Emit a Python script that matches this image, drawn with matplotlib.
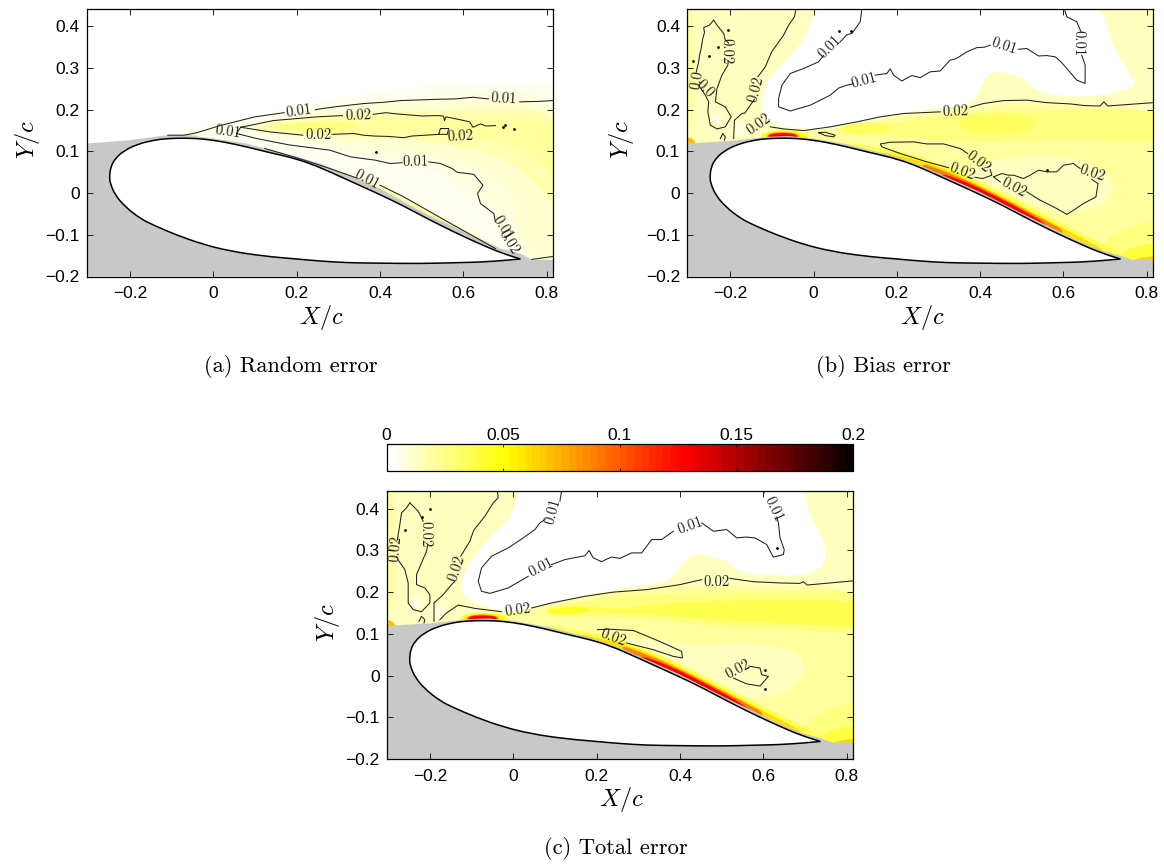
# PIV error maps over an aerofoil: random, bias and total error
import numpy as np
import matplotlib
matplotlib.use('Agg')
import matplotlib.pyplot as plt
from matplotlib.cm import ScalarMappable
from matplotlib.colors import Normalize
from matplotlib.path import Path
from matplotlib.patches import PathPatch

plt.rcParams['font.family'] = ['Liberation Sans', 'DejaVu Sans']
plt.rcParams['mathtext.fontset'] = 'cm'
plt.rcParams['axes.unicode_minus'] = True

# Aerofoil outline, data coordinates (trailing edge listed twice to keep it sharp)
airfoil = [(-.249, .039), (-.246, .063), (-.235, .083), (-.215, .101), (-.183, .117), (-.143, .127), (-.111, .131),
           (-.063, .132), (-.024, .13), (.025, .123), (.08, .111), (.136, .097), (.185, .086), (.233, .071),
           (.28, .051), (.337, .025), (.399, -.003), (.457, -.031), (.513, -.061), (.577, -.093), (.633, -.119),
           (.689, -.143), (.737, -.158), (.737, -.158), (.656, -.165), (.577, -.167),
           (.497, -.169), (.399, -.168), (.321, -.167), (.257, -.163), (.2, -.158), (.12, -.151), (.04, -.139),
           (-.024, -.123), (-.087, -.101), (-.143, -.077), (-.175, -.061), (-.211, -.033), (-.235, -.005),
           (-.247, .023)]

# Grey part with no measurement
a_mask = [(-.304, .119), (-.2, .127), (-.111, .139), (-.06, .139), (0, .131), (.08, .119), (.185, .091), (.257, .071),
          (.399, .011), (.513, -.051), (.689, -.133), (.737, -.145), (.764, -.16), (.815, -.16), (.815, -.2),
          (-.304, -.2)]
bc_mask = [(-.304, .119), (-.2, .125), (-.111, .135), (-.06, .137), (0, .131), (.08, .117), (.185, .091), (.257, .066),
           (.399, .003), (.513, -.055), (.633, -.113), (.689, -.137), (.737, -.15), (.764, -.16), (.815, -.16),
           (.815, -.2), (-.304, -.2)]

# Filled levels: error value and outline
a_fill_1 = [(-.109, .143), (.013, .167), (.188, .207), (.362, .239), (.58, .267), (.71, .259), (.771, .267),
            (.86, .259), (.86, -.18), (.77, -.18), (.6, -.1), (.3, .03), (0, .12)]
a_fill_2 = [(.048, .155), (.188, .191), (.362, .219), (.58, .239), (.86, .247), (.86, -.17), (.767, -.17),
            (.728, -.121), (.667, -.049), (.623, -.001), (.562, .047), (.475, .071), (.362, .087), (.231, .119),
            (.101, .143)]
a_fill_3 = [(.066, .157), (.188, .182), (.362, .206), (.58, .219), (.86, .231), (.86, -.17), (.771, -.165),
            (.728, -.097), (.728, -.033), (.693, .031), (.588, .079), (.449, .103), (.275, .127), (.144, .143)]
a_fill_4 = [(.074, .157), (.188, .177), (.362, .193), (.58, .199), (.86, .207), (.86, -.08), (.78, .015),
            (.71, .079), (.606, .111), (.449, .131), (.275, .135), (.144, .147)]
a_fill_5 = [(.074, .157), (.231, .174), (.405, .183), (.623, .175), (.86, .183), (.86, -.02), (.754, .111),
            (.623, .131), (.449, .139), (.275, .143)]
a_fill_6 = [(.118, .161), (.275, .174), (.362, .166), (.318, .151), (.188, .15)]
a_fill_7 = [(-.105, .137), (-.04, .142), (-.035, .134), (-.1, .131)]
a_fill_8 = [(.3, .057), (.4, .017), (.5, -.036), (.6, -.087), (.68, -.125), (.68, -.16), (.3, .02)]
a_fills = [(.004, a_fill_1), (.008, a_fill_2), (.012, a_fill_3), (.016, a_fill_4), (.02, a_fill_5),
           (.025, a_fill_6), (.035, a_fill_7), (.02, a_fill_8)]

# Pale zone, main wake and strips, one set for each of b and c
left_strip = [(-.34, .48), (-.29, .48), (-.285, .3), (-.29, .13), (-.34, .12)]
b_pale = [(.032, .48), (-.008, .411), (-.024, .363), (-.072, .315), (-.12, .259), (-.128, .195), (-.112, .171),
          (-.048, .154), (.04, .154), (.104, .171), (.168, .183), (.216, .194), (.376, .211), (.396, .239),
          (.412, .283), (.444, .295), (.52, .271), (.528, .243), (.648, .227), (.778, .251), (.76, .287),
          (.715, .351), (.688, .48)]
b_spot_1 = [(-.245, .19), (-.225, .19), (-.218, .17), (-.235, .16), (-.248, .17)]
b_spot_2 = [(-.19, .17), (-.16, .17), (-.155, .14), (-.19, .135)]
b_wake = [(-.09, .145), (.04, .152), (.104, .165), (.168, .177), (.216, .187), (.376, .2), (.456, .217), (.6, .21),
          (.86, .21), (.86, -.2), (.77, -.2), (.6, -.1), (.4, .0), (.2, .08), (.05, .12)]
b_strip = [(.05, .15), (.2, .17), (.37, .195), (.6, .2), (.86, .2), (.86, .12), (.6, .13), (.4, .12), (.2, .135),
           (.08, .14)]
b_blob_1 = [(.37, .19), (.5, .19), (.54, .17), (.5, .14), (.38, .14), (.34, .165)]
b_blob_2 = [(.065, .165), (.17, .17), (.2, .15), (.1, .14), (.06, .15)]
b_low = [(.36, .05), (.45, .085), (.56, .095), (.68, .068), (.72, .03), (.71, -.02), (.63, -.05), (.55, -.04),
         (.47, .0), (.39, .03)]
b_corner = [(.66, -.12), (.86, -.04), (.86, -.2), (.77, -.2)]
b_corner_2 = [(.72, -.14), (.86, -.11), (.86, -.2), (.77, -.2)]
b_row = [(.765, -.155), (.86, -.15), (.86, -.18), (.77, -.18)]
b_dot = [(-.34, .135), (-.29, .135), (-.28, .11), (-.34, .11)]
top_1 = [(-.125, .15), (-.02, .15), (-.01, .12), (-.125, .12)]
top_2 = [(-.112, .146), (-.035, .146), (-.035, .125), (-.112, .125)]
top_3 = [(-.108, .144), (-.04, .144), (-.04, .128), (-.108, .128)]
band_1 = [(.04, .13), (.2, .1), (.25, .09), (.3, .071), (.35, .05), (.4, .027), (.45, .002), (.5, -.024), (.55, -.05),
          (.6, -.075), (.65, -.1), (.7, -.125), (.77, -.16), (.6, -.15), (.1, .05)]
band_2 = [(.15, .102), (.2, .09), (.25, .08), (.3, .063), (.35, .042), (.4, .019), (.45, -.006), (.5, -.032),
          (.55, -.058), (.6, -.085), (.65, -.11), (.72, -.15), (.5, -.15), (.2, .03)]
band_3 = [(.25, .075), (.3, .058), (.35, .038), (.4, .015), (.45, -.01), (.5, -.036), (.55, -.062), (.62, -.1),
          (.5, -.11), (.3, .02)]
band_4 = [(.3, .049), (.35, .033), (.4, .011), (.45, -.014), (.5, -.04), (.56, -.074), (.56, -.09), (.3, .02)]
b_fills = [(.02, left_strip), (.003, b_pale), (.007, b_spot_1), (.007, b_spot_2), (.02, b_wake),
           (.025, b_strip), (.034, b_blob_1), (.034, b_blob_2), (.013, b_low), (.026, b_corner), (.04, b_corner_2),
           (.065, b_row), (.07, b_dot), (.05, top_1), (.09, top_2), (.125, top_3), (.035, band_1), (.06, band_2),
           (.09, band_3), (.125, band_4)]

c_pale = [(.02, .48), (.012, .426), (-.012, .37), (-.06, .33), (-.116, .258), (-.128, .202), (-.1, .174),
          (-.036, .158), (.012, .154), (.092, .178), (.24, .206), (.36, .222), (.384, .238), (.416, .282),
          (.448, .294), (.496, .278), (.52, .274), (.536, .246), (.688, .236), (.749, .261), (.749, .317),
          (.714, .373), (.687, .48)]
c_wake = [(-.09, .145), (.012, .15), (.092, .172), (.24, .2), (.36, .216), (.6, .215), (.86, .215), (.86, -.2),
          (.77, -.2), (.6, -.1), (.4, .0), (.2, .08), (.05, .12)]
c_strip_1 = [(.057, .157), (.199, .185), (.377, .197), (.643, .201), (.86, .205), (.86, .095), (.643, .113),
             (.465, .117), (.377, .133), (.199, .141), (.093, .141)]
c_strip_2 = [(.066, .161), (.164, .169), (.244, .157), (.377, .177), (.599, .181), (.86, .181), (.86, .11),
             (.599, .129), (.465, .133), (.359, .145), (.199, .153), (.093, .153)]
c_blob = [(.066, .155), (.164, .167), (.19, .153), (.11, .145)]
c_low = [(.253, .093), (.341, .085), (.465, .069), (.554, .081), (.678, .061), (.705, .021), (.67, -.035),
         (.572, -.059), (.51, -.051), (.377, .005), (.288, .053)]
c_spot_1 = [(-.245, .19), (-.22, .19), (-.215, .165), (-.235, .16), (-.25, .17)]
c_spot_2 = [(-.19, .17), (-.165, .17), (-.16, .14), (-.19, .135)]
c_fills = [(.02, left_strip), (.003, c_pale), (.007, c_spot_1), (.007, c_spot_2), (.02, c_wake),
           (.026, c_strip_1), (.036, c_strip_2), (.046, c_blob), (.014, c_low), (.026, b_corner), (.04, b_corner_2),
           (.065, b_row), (.07, b_dot), (.05, top_1), (.09, top_2), (.125, top_3), (.035, band_1), (.06, band_2),
           (.09, band_3), (.125, band_4)]

# Contour lines, with a gap at each label
a_lines = [
    [(-.109, .139), (-.07, .139), (-.039, .145), (.013, .161), (.056, .172), (.1, .183), (.17, .193)],
    [(.245, .2), (.262, .203), (.3, .208), (.362, .215), (.41, .218), (.449, .222), (.536, .225), (.58, .226),
     (.623, .23), (.66, .226)],
    [(.735, .219), (.78, .22), (.815, .222)],
    [(.066, .158), (.144, .174), (.249, .183), (.31, .186)],
    [(.384, .189), (.414, .193), (.44, .19), (.466, .188), (.501, .185), (.536, .186), (.552, .185), (.555, .174),
     (.558, .183), (.588, .177), (.615, .171), (.623, .158), (.641, .166), (.654, .161), (.677, .162)],
    [(.056, .143), (.066, .158)],
    [(.066, .158), (.135, .147), (.215, .139)],
    [(.285, .141), (.337, .143), (.36, .139), (.385, .137), (.42, .136), (.457, .133), (.477, .137), (.51, .139),
     (.541, .141), (.545, .155), (.565, .155), (.561, .141), (.541, .141)],
    [(.056, .143), (.104, .131), (.18, .116), (.28, .103), (.329, .087), (.389, .079), (.425, .071), (.453, .073)],
    [(.517, .075), (.545, .071), (.573, .059), (.585, .05), (.625, .045), (.647, .019), (.634, -.001), (.641, -.025),
     (.673, -.049), (.677, -.069)],
    [(.124, .107), (.2, .085), (.28, .059), (.345, .036)],
    [(.4, .019), (.457, -.009), (.577, -.077), (.677, -.133)],
    [(.764, -.159), (.815, -.152)],
]
a_labels = [(.205, .195, '0.01', 8), (.697, .225, '0.01', -3), (.349, .186, '0.02', 2), (.253, .139, '0.02', 0),
            (.035, .146, '0.01', -8), (.485, .075, '0.01', 1), (.593, .137, '0.02', 3), (.369, .031, '0.01', -28),
            (.693, -.083, '0.01', -58), (.709, -.117, '0.02', -58)]
a_dots = [(.39, .099), (.695, .158), (.7, .163), (.722, .155)]

b_lines = [
    [(-.24, .415), (-.25, .403), (-.264, .397), (-.262, .385), (-.266, .371), (-.27, .347), (-.274, .33), (-.276, .315),
     (-.282, .29)],
    [(-.276, .259), (-.26, .235), (-.252, .219), (-.254, .195), (-.248, .163), (-.232, .154), (-.212, .159),
     (-.198, .183), (-.212, .207), (-.236, .219), (-.232, .251), (-.22, .283), (-.206, .307), (-.205, .318)],
    [(-.204, .36), (-.212, .367), (-.216, .383), (-.232, .403), (-.24, .415)],
    [(-.224, .131), (-.218, .143), (-.212, .135), (-.214, .127)],
    [(-.192, .131), (-.19, .175), (-.172, .191), (-.165, .192), (-.152, .211), (-.142, .225)],
    [(-.134, .279), (-.116, .303), (-.104, .331), (-.1, .34), (-.092, .351), (-.072, .379), (-.06, .403),
     (-.046, .423), (-.042, .443)],
    [(-.104, .159), (-.072, .154), (-.024, .15), (.04, .159), (.104, .171), (.16, .183), (.216, .191), (.304, .195)],
    [(.376, .206), (.408, .215), (.456, .222), (.512, .223), (.56, .217), (.616, .214), (.652, .21), (.688, .209),
     (.697, .219), (.706, .209), (.815, .217)],
    [(.116, .443), (.112, .411), (.092, .383), (.08, .38), (.064, .363)],
    [(.024, .33), (.012, .315), (-.024, .299), (-.056, .287), (-.076, .259), (-.084, .227), (-.084, .207),
     (-.056, .197), (-.008, .211), (.04, .235), (.06, .252), (.08, .259), (.095, .262)],
    [(.148, .283), (.176, .287), (.184, .298), (.192, .283), (.212, .269), (.224, .276), (.236, .282), (.256, .277),
     (.28, .291), (.304, .293), (.328, .319), (.34, .322), (.348, .326), (.368, .339), (.392, .349), (.41, .35),
     (.424, .355)],
    [(.492, .345), (.512, .347), (.54, .329), (.56, .33), (.58, .327), (.594, .315), (.608, .299), (.632, .271),
     (.652, .263), (.652, .307), (.644, .331)],
    [(.602, .443), (.608, .423), (.632, .411), (.642, .387)],
    [(.37, .095), (.352, .107), (.312, .118), (.272, .118), (.24, .123), (.184, .122), (.16, .118), (.164, .111),
     (.208, .095), (.272, .075), (.324, .061)],
    [(.388, .038), (.406, .035), (.428, .043), (.424, .057)],
    [(.432, .039), (.448, .027)],
    [(.512, .003), (.544, -.017), (.584, -.037), (.608, -.051), (.624, -.041), (.648, -.025), (.678, -.009),
     (.683, .023), (.668, .033)],
    [(.432, .039), (.452, .047), (.468, .043), (.48, .043), (.504, .035), (.52, .043), (.54, .055), (.56, .051),
     (.584, .051), (.6, .067), (.624, .071), (.64, .059)],
    [(.012, .145), (.028, .146), (.052, .139), (.048, .135), (.028, .138), (.012, .145)],
]
b_labels = [(-.28, .272, '0.0', 80), (-.262, .25, '0.0', -45), (-.21, .34, '0.02', -90), (-.138, .25, '0.02', 75),
            (-.132, .165, '0.02', 35), (.34, .195, '0.02', 2), (.04, .35, '0.01', 45), (.12, .27, '0.01', 15),
            (.458, .352, '0.01', -18), (.635, .36, '0.01', -90), (.396, .075, '0.02', -38), (.356, .05, '0.02', -20),
            (.48, .012, '0.02', -28), (.668, .047, '0.02', -18)]
b_dots = [(-.205, .392), (-.29, .318), (-.25, .33), (-.23, .35), (.09, .39), (.56, .055), (.06, .39)]

c_lines = [
    [(-.248, .414), (-.256, .402), (-.268, .39), (-.272, .362), (-.276, .338), (-.278, .325)],
    [(-.28, .285), (-.274, .274), (-.26, .254), (-.252, .222), (-.252, .174), (-.24, .158), (-.22, .153), (-.2, .174),
     (-.2, .194), (-.212, .21), (-.232, .218), (-.232, .242), (-.22, .27), (-.208, .298), (-.205, .315)],
    [(-.216, .37), (-.228, .394), (-.248, .414)],
    [(-.226, .13), (-.22, .142), (-.212, .134), (-.214, .126)],
    [(-.19, .13), (-.19, .174), (-.168, .194), (-.148, .218), (-.14, .226)],
    [(-.126, .286), (-.104, .322), (-.095, .348), (-.068, .382), (-.048, .414), (-.036, .426), (-.038, .443)],
    [(-.176, .134), (-.16, .15), (-.132, .169), (-.092, .161), (-.028, .153)],
    [(.044, .162), (.092, .174), (.172, .19), (.24, .2), (.32, .206), (.4, .218), (.452, .23)],
    [(.52, .233), (.576, .225), (.64, .222), (.687, .221), (.696, .225), (.705, .217), (.815, .227)],
    [(.116, .443), (.112, .418)],
    [(.076, .374), (.064, .366), (.052, .35), (.024, .33), (-.012, .306), (-.052, .286), (-.076, .258), (-.084, .226),
     (-.076, .202), (-.056, .197), (-.012, .21), (.036, .238)],
    [(.092, .266), (.124, .278), (.16, .285), (.172, .287), (.182, .3), (.192, .282), (.212, .273), (.224, .279),
     (.236, .284), (.256, .281), (.284, .294), (.308, .294), (.332, .326), (.356, .326), (.384, .346)],
    [(.452, .366), (.48, .346), (.512, .35), (.536, .33), (.558, .332), (.58, .33), (.608, .314), (.624, .284),
     (.648, .29), (.65, .302), (.64, .33), (.636, .366), (.632, .38)],
    [(.602, .438), (.6, .443)],
    [(.202, .11), (.232, .111), (.288, .108), (.32, .095), (.36, .078), (.404, .058), (.406, .042), (.384, .046),
     (.336, .062), (.272, .078)],
    [(.568, .022), (.592, .018), (.596, .002), (.612, -.002), (.592, -.025), (.56, -.02), (.528, -.006)],
]
c_labels = [(-.282, .305, '0.02', 85), (-.212, .34, '0.02', -90), (-.135, .258, '0.02', 72), (.01, .157, '0.02', 8),
            (.488, .225, '0.02', 0), (.096, .394, '0.01', 75), (.068, .258, '0.01', 27), (.424, .358, '0.01', 20),
            (.624, .398, '0.01', -65), (.24, .09, '0.02', -20), (.54, .015, '0.02', 28)]
c_dots = [(.604, -.033), (.604, .014), (.632, .306), (-.2, .4), (-.26, .35), (-.22, .38)]

x_ticks = [-.2, 0, .2, .4, .6, .8]
x_labels = ['\u22120.2', '0', '0.2', '0.4', '0.6', '0.8']
y_ticks = [-.2, -.1, 0, .1, .2, .3, .4]
y_labels = ['\u22120.2', '\u22120.1', '0', '0.1', '0.2', '0.3', '0.4']
cbar_ticks = [0, .05, .1, .15, .2]
cbar_labels = ['0', '0.05', '0.1', '0.15', '0.2']

W, H = 1164, 867
cmap = plt.get_cmap('hot_r', 64)
norm = Normalize(0, .2)

fig = plt.figure(figsize=(W / 100, H / 100), dpi=100)


def add_ax(left, right, top, bottom):
    return fig.add_axes([left / W, 1 - bottom / H, (right - left) / W, (bottom - top) / H])


# Closed curved outline: the listed points are quadratic control points
def rounded(poly):
    p = np.array(poly, dtype=float)
    mids = (p + np.roll(p, -1, axis=0)) / 2
    verts = [mids[-1]]
    codes = [Path.MOVETO]
    for q, m in zip(p, mids):
        verts += [q, m]
        codes += [Path.CURVE3, Path.CURVE3]
    return Path(verts, codes)


def panel(box, base, fills, mask, lines, labels, dots, label_px):
    ax = add_ax(*box)
    ax.set_facecolor(cmap(norm(base)))
    for v, poly in fills:
        ax.add_patch(PathPatch(rounded(poly), facecolor=cmap(norm(v)), lw=0))
    m = np.array(mask)
    ax.fill(m[:, 0], m[:, 1], color='#c8c8c8', lw=0)
    ax.add_patch(PathPatch(rounded(airfoil), facecolor='white', edgecolor='black', lw=1.1))
    for seg in lines:
        s = np.array(seg)
        ax.plot(s[:, 0], s[:, 1], color='#202020', lw=.75)
    for x, y, t, r in labels:
        ax.text(x, y, t, fontname='cmr10', fontsize=10.5, rotation=r, ha='center', va='center',
                rotation_mode='anchor', color='#202020')
    d = np.array(dots)
    ax.plot(d[:, 0], d[:, 1], ls='none', marker='o', ms=1.0, color='black')
    ax.set_xlim(-.304, .815)
    ax.set_ylim(-.2, .4424)
    ax.set_xticks(x_ticks, x_labels)
    ax.set_yticks(y_ticks, y_labels)
    ax.tick_params(direction='in', top=True, right=True, length=4, width=.6, labelsize=12.5, pad=5)
    ax.tick_params(axis='x', pad=7)
    for sp in ax.spines.values():
        sp.set_linewidth(.9)
    fig.text(label_px[0] / W, 1 - label_px[1] / H, r'$X/c$', fontsize=17.5, ha='center', va='center')
    fig.text(label_px[2] / W, 1 - label_px[3] / H, r'$Y/c$', fontsize=17.5, rotation=90, ha='center', va='center')
    return ax


panel((86.5, 553, 8.7, 276.5), 0, a_fills, a_mask, a_lines, a_labels, a_dots, (321, 317, 27, 140))
panel((687, 1153, 8.7, 276.5), .014, b_fills, bc_mask, b_lines, b_labels, b_dots, (922, 317, 622, 140))
panel((386.5, 853, 491, 759), .014, c_fills, bc_mask, c_lines, c_labels, c_dots, (621, 800, 327, 623))

cax = add_ax(386.5, 853, 444, 471)
cb = fig.colorbar(ScalarMappable(norm=norm, cmap=cmap), cax=cax, orientation='horizontal')
cb.set_ticks(cbar_ticks, labels=cbar_labels)
cax.xaxis.set_ticks_position('both')
cax.xaxis.set_label_position('top')
cax.tick_params(direction='in', labeltop=True, labelbottom=False, length=2, width=.6, labelsize=12.5, pad=1)
cb.outline.set_linewidth(.9)

for x, y, t in [(291, 366, '(a) Random error'), (883, 366, '(b) Bias error'), (616, 849, '(c) Total error')]:
    fig.text(x / W, 1 - y / H, t, fontname='cmr10', fontsize=16.2, ha='center', va='center')

fig.savefig('out.png', dpi=100)
